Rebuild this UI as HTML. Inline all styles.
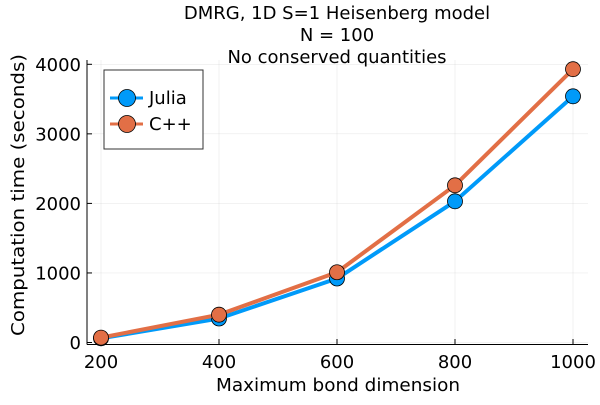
<!DOCTYPE html>
<html><head><meta charset="utf-8"><style>
body{margin:0;background:#fff;}
svg text{font-family:"DejaVu Sans","Liberation Sans",sans-serif;fill:#000;}
</style></head><body>
<svg id="chart" width="600" height="400">
<text x="337" y="19" font-size="18" text-anchor="middle">DMRG, 1D S=1 Heisenberg model</text>
<text x="337" y="41" font-size="18" text-anchor="middle">N = 100</text>
<text x="337" y="63" font-size="18" text-anchor="middle">No conserved quantities</text>
<g id="grid"></g>
<g id="axes"></g>
<g id="series"></g>
<text x="338" y="391" font-size="18" text-anchor="middle" textLength="244" lengthAdjust="spacingAndGlyphs">Maximum bond dimension</text>
<text transform="translate(24,195) rotate(-90)" font-size="18" text-anchor="middle" textLength="282" lengthAdjust="spacingAndGlyphs">Computation time (seconds)</text>
<g>
<rect x="104" y="70" width="99" height="79" fill="#fff" stroke="#333" stroke-width="1"/>
<line x1="110" y1="98" x2="143" y2="98" stroke="#009af9" stroke-width="3"/>
<circle cx="127" cy="98" r="8.5" fill="#009af9" stroke="#000" stroke-width="0.8"/>
<text x="149" y="104" font-size="18">Julia</text>
<line x1="110" y1="124" x2="143" y2="124" stroke="#e26f46" stroke-width="3"/>
<circle cx="127" cy="124" r="8.5" fill="#e26f46" stroke="#000" stroke-width="0.8"/>
<text x="149" y="130" font-size="18">C++</text>
</g>
</svg>
<script>
const categories=[200,400,600,800,1000];
const juliaValues=[60,345,920,2030,3540];
const cppValues=[70,400,1010,2260,3930];
const yTicks=[0,1000,2000,3000,4000];
const xTicks=[200,400,600,800,1000];
const NS="http://www.w3.org/2000/svg";
function xs(v){return 101+(v-200)*(573-101)/800;}
function ys(v){return 342.5-v*(342.5-64.3)/4000;}
function mk(t,a,p){const e=document.createElementNS(NS,t);for(const k in a)e.setAttribute(k,a[k]);p.appendChild(e);return e;}
const grid=document.getElementById('grid'),axes=document.getElementById('axes'),ser=document.getElementById('series');
xTicks.forEach(v=>{
 const g=mk('line',{x1:xs(v),x2:xs(v),y1:60,y2:344,stroke:'#000','stroke-opacity':0.1,'stroke-width':0.5},grid);
 
 mk('line',{x1:xs(v),x2:xs(v),y1:344,y2:339,stroke:'#000','stroke-width':1},axes);
 const t=mk('text',{x:xs(v),y:368,'font-size':18,'text-anchor':'middle'},axes);t.textContent=v;
 
});
yTicks.forEach(v=>{
 const g=mk('line',{x1:87,x2:588,y1:ys(v),y2:ys(v),stroke:'#000','stroke-opacity':0.1,'stroke-width':0.5},grid);
 
 mk('line',{x1:87,x2:92,y1:ys(v),y2:ys(v),stroke:'#000','stroke-width':1},axes);
 const t=mk('text',{x:81,y:ys(v)+6.5,'font-size':18,'text-anchor':'end'},axes);t.textContent=v;
 
});
mk('line',{x1:87,x2:87,y1:60,y2:344.5,stroke:'#000','stroke-width':1},axes);
mk('line',{x1:87,x2:588,y1:344.5,y2:344.5,stroke:'#000','stroke-width':1},axes);
function draw(vals,color,name){
 const pl=mk('polyline',{points:categories.map((c,i)=>xs(c)+','+ys(vals[i])).join(' '),fill:'none',stroke:color,'stroke-width':4,'stroke-linejoin':'round'},ser);
 
 categories.forEach((c,i)=>{
  const p=mk('circle',{cx:xs(c),cy:ys(vals[i]),r:7.5,fill:color,stroke:'#000','stroke-width':0.8},ser);
  
 });
}
draw(juliaValues,'#009af9','julia');
draw(cppValues,'#e26f46','cpp');
</script>
</body></html>
